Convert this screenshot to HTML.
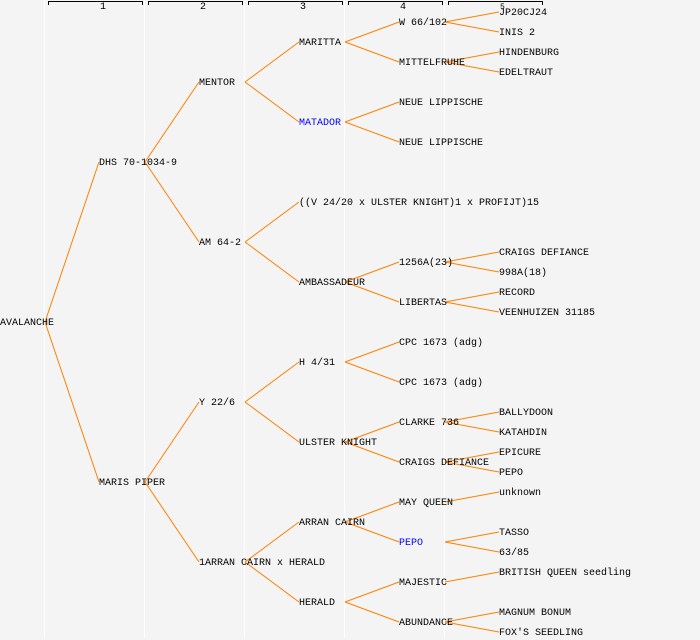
<!DOCTYPE html>
<html><head><meta charset="utf-8"><style>
html,body{margin:0;padding:0;background:#f4f4f4;}
svg{display:block;}
text{font-family:"Liberation Mono",monospace;font-size:10px;fill:#000;}
</style></head><body>
<svg width="700" height="640" xmlns="http://www.w3.org/2000/svg">
<rect width="700" height="640" fill="#f4f4f4"/>
<g stroke="#fff" stroke-width="1">
<line x1="44.5" y1="0" x2="44.5" y2="638"/><line x1="144.5" y1="0" x2="144.5" y2="638"/>
<line x1="244.5" y1="0" x2="244.5" y2="638"/><line x1="344.5" y1="0" x2="344.5" y2="638"/>
<line x1="444.5" y1="0" x2="444.5" y2="638"/>
</g>
<g stroke="#000" stroke-width="1" fill="none">
<path d="M48.5 5V1.5H142.5V5"/><path d="M148.5 5V1.5H242.5V5"/><path d="M248.5 5V1.5H342.5V5"/>
<path d="M348.5 5V1.5H442.5V5"/><path d="M448.5 5V1.5H542.5V5"/>
</g>
<g style="font-size:8px">
<text x="100" y="9">1</text><text x="200" y="9">2</text><text x="300" y="9">3</text><text x="400" y="9">4</text><text x="500" y="9" style="font-size:8px">5</text>
</g>
<g stroke="#ff8000" stroke-width="1" fill="none">
<path d="M45 322L99 162M45 322L99 482"/>
<path d="M145 162L199 82M145 162L199 242M145 482L199 402M145 482L199 562"/>
<path d="M245 82L299 42M245 82L299 122M245 242L299 202M245 242L299 282M245 402L299 362M245 402L299 442M245 562L299 522M245 562L299 602"/>
<path d="M345 42L399 22M345 42L399 62M345 122L399 102M345 122L399 142M345 282L399 262M345 282L399 302M345 362L399 342M345 362L399 382M345 442L399 422M345 442L399 462M345 522L399 502M345 522L399 542M345 602L399 582M345 602L399 622"/>
<path d="M445 22L499 12M445 22L499 32M445 62L499 52M445 62L499 72M445 262L499 252M445 262L499 272M445 302L499 292M445 302L499 312M445 422L499 412M445 422L499 432M445 462L499 452M445 462L499 472M445 502L499 492M445 542L499 532M445 542L499 552M445 582L499 572M445 622L499 612M445 622L499 632"/>
</g>
<g transform="translate(0,-1)">
<text x="0" y="326">AVALANCHE</text>
<text x="99" y="166">DHS 70-1034-9</text><text x="99" y="486">MARIS PIPER</text>
<text x="199" y="86">MENTOR</text><text x="199" y="246">AM 64-2</text><text x="199" y="406">Y 22/6</text><text x="199" y="566">1ARRAN CAIRN x HERALD</text>
<text x="299" y="46">MARITTA</text><text x="299" y="126" style="fill:#0000ff">MATADOR</text>
<text x="299" y="206">((V 24/20 x ULSTER KNIGHT)1 x PROFIJT)15</text><text x="299" y="286">AMBASSADEUR</text>
<text x="299" y="366">H 4/31</text><text x="299" y="446">ULSTER KNIGHT</text><text x="299" y="526">ARRAN CAIRN</text><text x="299" y="606">HERALD</text>
<text x="399" y="26">W 66/102</text><text x="399" y="66">MITTELFRUHE</text><text x="399" y="106">NEUE LIPPISCHE</text><text x="399" y="146">NEUE LIPPISCHE</text>
<text x="399" y="266">1256A(23)</text><text x="399" y="306">LIBERTAS</text><text x="399" y="346">CPC 1673 (adg)</text><text x="399" y="386">CPC 1673 (adg)</text>
<text x="399" y="426">CLARKE 736</text><text x="399" y="466">CRAIGS DEFIANCE</text><text x="399" y="506">MAY QUEEN</text><text x="399" y="546" style="fill:#0000ff">PEPO</text>
<text x="399" y="586">MAJESTIC</text><text x="399" y="626">ABUNDANCE</text>
<text x="499" y="16">JP20CJ24</text><text x="499" y="36">INIS 2</text><text x="499" y="56">HINDENBURG</text><text x="499" y="76">EDELTRAUT</text>
<text x="499" y="256">CRAIGS DEFIANCE</text><text x="499" y="276">998A(18)</text><text x="499" y="296">RECORD</text><text x="499" y="316">VEENHUIZEN 31185</text>
<text x="499" y="416">BALLYDOON</text><text x="499" y="436">KATAHDIN</text><text x="499" y="456">EPICURE</text><text x="499" y="476">PEPO</text>
<text x="499" y="496">unknown</text><text x="499" y="536">TASSO</text><text x="499" y="556">63/85</text>
<text x="499" y="576">BRITISH QUEEN seedling</text><text x="499" y="616">MAGNUM BONUM</text><text x="499" y="636">FOX'S SEEDLING</text>
</g>
</svg>
</body></html>
